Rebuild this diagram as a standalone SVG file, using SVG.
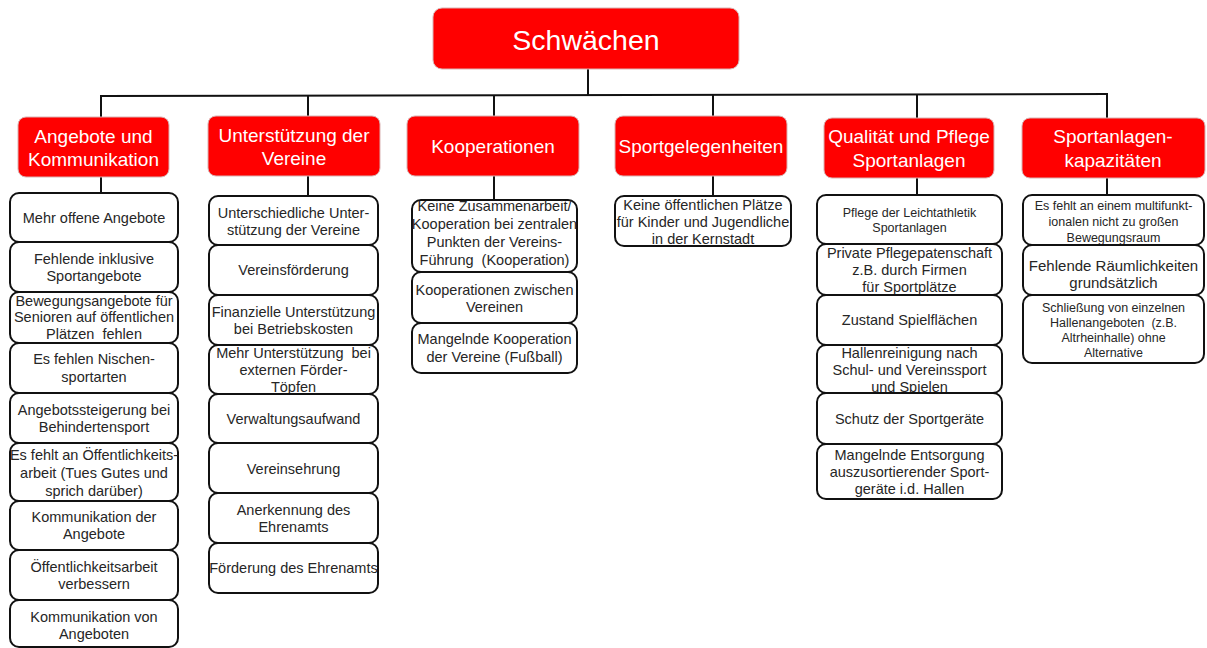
<svg xmlns="http://www.w3.org/2000/svg" width="1207" height="648" viewBox="0 0 1207 648">
  <style>
    .hdr { fill: #ff0000; stroke: #d9b3b3; stroke-width: 1; }
    .hdr-t { font-family: "Liberation Sans", Arial, sans-serif; font-size: 19px; fill: #ffffff; text-anchor: middle; }
    .root-t { font-family: "Liberation Sans", Arial, sans-serif; font-size: 28.5px; fill: #ffffff; text-anchor: middle; }
    .box { fill: #ffffff; stroke: #111111; stroke-width: 2; }
    .t { font-family: "Liberation Sans", Arial, sans-serif; font-size: 14.5px; fill: #262626; text-anchor: middle; }
    .ts { font-family: "Liberation Sans", Arial, sans-serif; font-size: 12.5px; fill: #262626; text-anchor: middle; }
    .tl { font-family: "Liberation Sans", Arial, sans-serif; font-size: 15px; fill: #262626; text-anchor: middle; }
    .link { stroke: #111111; stroke-width: 2; fill: none; }
  </style>

  <!-- tree connectors -->
  <g id="connectors">
    <line class="link" x1="588" y1="69" x2="588" y2="95"/>
    <line class="link" x1="100" y1="96" x2="1108" y2="94"/>
    <line class="link" x1="101" y1="96" x2="101" y2="117"/>
    <line class="link" x1="308" y1="96" x2="308" y2="116"/>
    <line class="link" x1="494" y1="95" x2="494" y2="116"/>
    <line class="link" x1="713" y1="95" x2="713" y2="116"/>
    <line class="link" x1="917" y1="94" x2="917" y2="118"/>
    <line class="link" x1="1107" y1="94" x2="1107" y2="118"/>
    <line class="link" x1="101" y1="177" x2="101" y2="193"/>
    <line class="link" x1="308" y1="176" x2="308" y2="196"/>
    <line class="link" x1="494" y1="176" x2="494" y2="200"/>
    <line class="link" x1="713" y1="176" x2="713" y2="196"/>
    <line class="link" x1="917" y1="178" x2="917" y2="195"/>
    <line class="link" x1="1107" y1="178" x2="1107" y2="195"/>
  </g>

  <!-- root -->
  <g id="root">
    <rect class="hdr" x="433" y="8" width="306" height="61" rx="9"/>
    <text class="root-t" x="586" y="50">Schwächen</text>
  </g>

  <!-- category headers -->
  <g id="cat-angebote">
    <rect class="hdr" x="18" y="117" width="151" height="60" rx="8"/>
    <text class="hdr-t" x="93.5" y="143">Angebote und</text>
    <text class="hdr-t" x="93.5" y="166">Kommunikation</text>
  </g>
  <g id="cat-vereine">
    <rect class="hdr" x="208" y="116" width="172" height="60" rx="8"/>
    <text class="hdr-t" x="294" y="142">Unterstützung der</text>
    <text class="hdr-t" x="294" y="165">Vereine</text>
  </g>
  <g id="cat-kooperationen">
    <rect class="hdr" x="407" y="116" width="172" height="60" rx="8"/>
    <text class="hdr-t" x="493" y="153">Kooperationen</text>
  </g>
  <g id="cat-sportgelegenheiten">
    <rect class="hdr" x="615" y="116" width="172" height="60" rx="8"/>
    <text class="hdr-t" x="701" y="153">Sportgelegenheiten</text>
  </g>
  <g id="cat-qualitaet">
    <rect class="hdr" x="824" y="118" width="170" height="60" rx="8"/>
    <text class="hdr-t" x="909" y="143">Qualität und Pflege</text>
    <text class="hdr-t" x="909" y="167">Sportanlagen</text>
  </g>
  <g id="cat-kapazitaeten">
    <rect class="hdr" x="1022" y="118" width="183" height="60" rx="8"/>
    <text class="hdr-t" x="1113" y="143">Sportanlagen-</text>
    <text class="hdr-t" x="1113" y="167">kapazitäten</text>
  </g>

  <!-- column 1: Angebote und Kommunikation -->
  <g id="a1"><rect class="box" x="10" y="193" width="168" height="49" rx="9"/>
    <text class="t" x="94" y="223">Mehr offene Angebote</text></g>
  <g id="a2"><rect class="box" x="10" y="242" width="168" height="50" rx="9"/>
    <text class="t" x="94" y="264">Fehlende inklusive</text>
    <text class="t" x="94" y="280.5">Sportangebote</text></g>
  <g id="a3"><rect class="box" x="10" y="292" width="168" height="51" rx="9"/>
    <text class="t" x="94" y="306">Bewegungsangebote für</text>
    <text class="t" x="94" y="322">Senioren auf öffentlichen</text>
    <text class="t" x="94" y="338.5">Plätzen&#160; fehlen</text></g>
  <g id="a4"><rect class="box" x="10" y="343" width="168" height="50" rx="9"/>
    <text class="t" x="94" y="364">Es fehlen Nischen-</text>
    <text class="t" x="94" y="381.5">sportarten</text></g>
  <g id="a5"><rect class="box" x="10" y="393" width="168" height="50" rx="9"/>
    <text class="t" x="94" y="415">Angebotssteigerung bei</text>
    <text class="t" x="94" y="432">Behindertensport</text></g>
  <g id="a6"><rect class="box" x="10" y="443" width="168" height="58" rx="9"/>
    <text class="t" x="94" y="460">Es fehlt an Öffentlichkeits-</text>
    <text class="t" x="94" y="478">arbeit (Tues Gutes und</text>
    <text class="t" x="94" y="496">sprich darüber)</text></g>
  <g id="a7"><rect class="box" x="10" y="501" width="168" height="49" rx="9"/>
    <text class="t" x="94" y="522">Kommunikation der</text>
    <text class="t" x="94" y="539">Angebote</text></g>
  <g id="a8"><rect class="box" x="10" y="550" width="168" height="50" rx="9"/>
    <text class="t" x="94" y="572">Öffentlichkeitsarbeit</text>
    <text class="t" x="94" y="589">verbessern</text></g>
  <g id="a9"><rect class="box" x="10" y="600" width="168" height="47" rx="9"/>
    <text class="t" x="94" y="622">Kommunikation von</text>
    <text class="t" x="94" y="639">Angeboten</text></g>

  <!-- column 2: Unterstützung der Vereine -->
  <g id="v1"><rect class="box" x="209" y="196" width="169" height="49" rx="9"/>
    <text class="t" x="293.5" y="218">Unterschiedliche Unter-</text>
    <text class="t" x="293.5" y="235">stützung der Vereine</text></g>
  <g id="v2"><rect class="box" x="209" y="245" width="169" height="50" rx="9"/>
    <text class="t" x="293.5" y="275">Vereinsförderung</text></g>
  <g id="v3"><rect class="box" x="209" y="295" width="169" height="50" rx="9"/>
    <text class="t" x="293.5" y="317">Finanzielle Unterstützung</text>
    <text class="t" x="293.5" y="333.5">bei Betriebskosten</text></g>
  <g id="v4"><rect class="box" x="209" y="345" width="169" height="49" rx="9"/>
    <text class="t" x="293.5" y="358">Mehr Unterstützung&#160; bei</text>
    <text class="t" x="293.5" y="375">externen Förder-</text>
    <text class="t" x="293.5" y="392">Töpfen</text></g>
  <g id="v5"><rect class="box" x="209" y="394" width="169" height="49" rx="9"/>
    <text class="t" x="293.5" y="424">Verwaltungsaufwand</text></g>
  <g id="v6"><rect class="box" x="209" y="443" width="169" height="50" rx="9"/>
    <text class="t" x="293.5" y="474">Vereinsehrung</text></g>
  <g id="v7"><rect class="box" x="209" y="493" width="169" height="50" rx="9"/>
    <text class="t" x="293.5" y="515">Anerkennung des</text>
    <text class="t" x="293.5" y="532">Ehrenamts</text></g>
  <g id="v8"><rect class="box" x="209" y="543" width="169" height="50" rx="9"/>
    <text class="t" x="293.5" y="573">Förderung des Ehrenamts</text></g>

  <!-- column 3: Kooperationen -->
  <g id="k1"><rect class="box" x="412" y="200" width="165" height="72" rx="9"/>
    <text class="t" x="494.5" y="211">Keine Zusammenarbeit/</text>
    <text class="t" x="494.5" y="229">Kooperation bei zentralen</text>
    <text class="t" x="494.5" y="247">Punkten der Vereins-</text>
    <text class="t" x="494.5" y="265">Führung&#160; (Kooperation)</text></g>
  <g id="k2"><rect class="box" x="412" y="272" width="165" height="51" rx="9"/>
    <text class="t" x="494.5" y="295">Kooperationen zwischen</text>
    <text class="t" x="494.5" y="312">Vereinen</text></g>
  <g id="k3"><rect class="box" x="412" y="323" width="165" height="50" rx="9"/>
    <text class="t" x="494.5" y="344">Mangelnde Kooperation</text>
    <text class="t" x="494.5" y="362">der Vereine (Fußball)</text></g>

  <!-- column 4: Sportgelegenheiten -->
  <g id="s1"><rect class="box" x="615" y="196" width="176" height="50" rx="9"/>
    <text class="t" x="703" y="210">Keine öffentlichen Plätze</text>
    <text class="t" x="703" y="227">für Kinder und Jugendliche</text>
    <text class="t" x="703" y="244">in der Kernstadt</text></g>

  <!-- column 5: Qualität und Pflege Sportanlagen -->
  <g id="q1"><rect class="box" x="817" y="195" width="185" height="49" rx="9"/>
    <text class="ts" x="909.5" y="216.5">Pflege der Leichtathletik</text>
    <text class="ts" x="909.5" y="231.5">Sportanlagen</text></g>
  <g id="q2"><rect class="box" x="817" y="244" width="185" height="51" rx="9"/>
    <text class="t" x="909.5" y="258">Private Pflegepatenschaft</text>
    <text class="t" x="909.5" y="275">z.B. durch Firmen</text>
    <text class="t" x="909.5" y="292">für Sportplätze</text></g>
  <g id="q3"><rect class="box" x="817" y="295" width="185" height="50" rx="9"/>
    <text class="t" x="909.5" y="325">Zustand Spielflächen</text></g>
  <g id="q4"><rect class="box" x="817" y="345" width="185" height="48" rx="9"/>
    <text class="t" x="909.5" y="358">Hallenreinigung nach</text>
    <text class="t" x="909.5" y="375">Schul- und Vereinssport</text>
    <text class="t" x="909.5" y="392">und Spielen</text></g>
  <g id="q5"><rect class="box" x="817" y="393" width="185" height="51" rx="9"/>
    <text class="t" x="909.5" y="424">Schutz der Sportgeräte</text></g>
  <g id="q6"><rect class="box" x="817" y="444" width="185" height="55" rx="9"/>
    <text class="t" x="909.5" y="460">Mangelnde Entsorgung</text>
    <text class="t" x="909.5" y="477">auszusortierender Sport-</text>
    <text class="t" x="909.5" y="494">geräte i.d. Hallen</text></g>

  <!-- column 6: Sportanlagenkapazitäten -->
  <g id="r1"><rect class="box" x="1023" y="195" width="181" height="50" rx="9"/>
    <text class="ts" x="1113.5" y="210">Es fehlt an einem multifunkt-</text>
    <text class="ts" x="1113.5" y="226">ionalen nicht zu großen</text>
    <text class="ts" x="1113.5" y="242">Bewegungsraum</text></g>
  <g id="r2"><rect class="box" x="1023" y="245" width="181" height="50" rx="9"/>
    <text class="tl" x="1113.5" y="271">Fehlende Räumlichkeiten</text>
    <text class="tl" x="1113.5" y="288">grundsätzlich</text></g>
  <g id="r3"><rect class="box" x="1023" y="295" width="181" height="68" rx="9"/>
    <text class="ts" x="1113.5" y="312">Schließung von einzelnen</text>
    <text class="ts" x="1113.5" y="327">Hallenangeboten&#160; (z.B.</text>
    <text class="ts" x="1113.5" y="342">Altrheinhalle) ohne</text>
    <text class="ts" x="1113.5" y="357">Alternative</text></g>
</svg>
